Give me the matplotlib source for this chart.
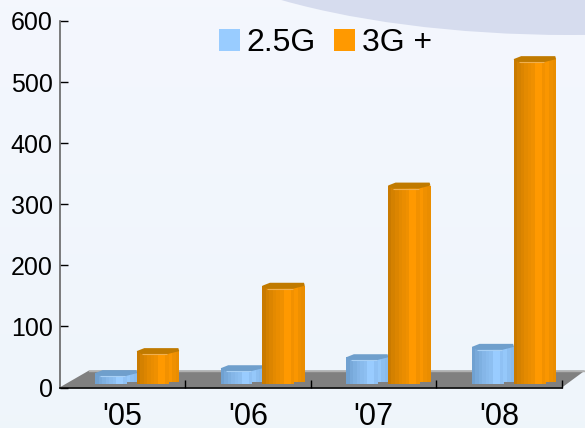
import numpy as np
import matplotlib
matplotlib.use("Agg")
import matplotlib.pyplot as plt
from matplotlib.patches import Ellipse, Patch, Polygon

plt.rcParams['font.family'] = ['Liberation Sans', 'DejaVu Sans']

years = ["'05", "'06", "'07", "'08"]
yticks = [0, 100, 200, 300, 400, 500, 600]
g25 = [17, 25, 43, 60]
g3 = [53, 160, 324, 531]

W, H = 585, 428
# axes box in pixels
left, right, top, bottom = 59.5, 562, 21, 387.5
px_x = 4 / (right - left)   # data units per pixel
px_y = 600 / (bottom - top)

fig = plt.figure(figsize=(W / 100, H / 100), dpi=100)
bg = fig.add_axes([0, 0, 1, 1], zorder=0)
bg.set_xlim(0, W)
bg.set_ylim(H, 0)
bg.axis('off')
c_top, c_bot = np.array([0.957, 0.969, 0.996]), np.array([0.937, 0.961, 0.984])
grad = np.linspace(0, 1, 64)[:, None, None] * (c_bot - c_top) + c_top
bg.imshow(grad, extent=[0, W, H, 0], aspect='auto')
bg.add_patch(Ellipse((570, -100), 860, 270, fc='#d6dcee', ec='none'))

ax = fig.add_axes([left / W, 1 - bottom / H, (right - left) / W, (bottom - top) / H], zorder=1)
ax.patch.set_alpha(0)
ax.set_xlim(0, 4)
ax.set_ylim(0, 600)

# shading of the facets, left to right, 0 dark .. 1 light
shade = [0.0, 0.2, 0.35, 0.5, 0.6, 0.7, 1.0, 1.0, 0.75, 0.9, 0.7, 0.6]


def cylinder(x, w, v, dark, light, cap, edge, z):
    base = 4 * px_y
    n = len(shade)
    for k in range(n):
        f = k / n
        # side facet stops a bit higher on the floor
        b = base + 2 * px_y if f >= 0.74 else base
        ax.bar(x + f * w, base + v - b, bottom=b, width=w / n * 1.05, align='edge',
               color=dark + (light - dark) * shade[k], lw=0, zorder=z)
    ax.add_patch(Polygon([
        (x, base + v),
        (x + 0.18 * w, base + v + 3 * px_y),
        (x + w * 0.98, base + v + 3 * px_y),
        (x + w, base + v),
        (x + 0.72 * w, base + v - 3 * px_y),
        (x + 0.12 * w, base + v - 3 * px_y),
    ], closed=True, fc=cap, ec='none', zorder=z + 0.1))
    ax.plot([x + 0.12 * w, x + 0.72 * w], [base + v - 3 * px_y] * 2, color=edge, lw=0.8,
            zorder=z + 0.2, solid_capstyle='butt')


# floor
ax.add_patch(Polygon([(0, 0), (4, 0), (4 + 23 * px_x, 17 * px_y), (29.5 * px_x, 17 * px_y)],
                     closed=True, fc='#808080', ec='none', clip_on=False, zorder=1))
ax.plot([29.5 * px_x, 4 + 23 * px_x], [17 * px_y] * 2, color='#b0b0b0', lw=1, clip_on=False, zorder=1.1)

blue_d, blue_l = np.array([0.44, 0.63, 0.82]), np.array([0.60, 0.80, 1.0])
oran_d, oran_l = np.array([0.79, 0.48, 0.0]), np.array([1.0, 0.60, 0.0])
for i in range(len(years)):
    cylinder(i + 0.283, 0.335, g25[i], blue_d, blue_l, '#6f9fcc', '#a8d0f5', 2 + i)
    cylinder(i + 0.614, 0.339, g3[i], oran_d, oran_l, '#c07a00', '#f0b050', 2.5 + i)

ax.set_xticks(np.arange(1, 5))
ax.set_xticklabels([])
ax.set_yticks(yticks)
ax.tick_params(axis='y', labelsize=18, direction='in', length=6, width=1, pad=5)
ax.tick_params(axis='x', direction='in', length=6, width=1)
for i, lab in enumerate(years):
    ax.text(i + 0.5, (bottom - 425) * px_y, lab, ha='center', va='baseline', fontsize=22)
for s in ['top', 'right']:
    ax.spines[s].set_visible(False)
ax.spines['left'].set_linewidth(1.2)
ax.spines['left'].set_color('#666666')
ax.spines['bottom'].set_linewidth(1.2)
ax.spines['left'].set_zorder(20)
ax.spines['bottom'].set_zorder(20)

handles = [Patch(fc='#99ccff', ec='none'), Patch(fc='#ff9900', ec='none')]
fig.legend(handles, ['2.5G', '3G +'], loc='upper left', bbox_to_anchor=(219 / W, 1 - 28 / H),
           ncol=2, frameon=False, fontsize=23, handlelength=0.66, handleheight=0.66,
           handletextpad=0.2, columnspacing=0.58, borderpad=0, borderaxespad=0)

fig.savefig('out.png', dpi=100)
